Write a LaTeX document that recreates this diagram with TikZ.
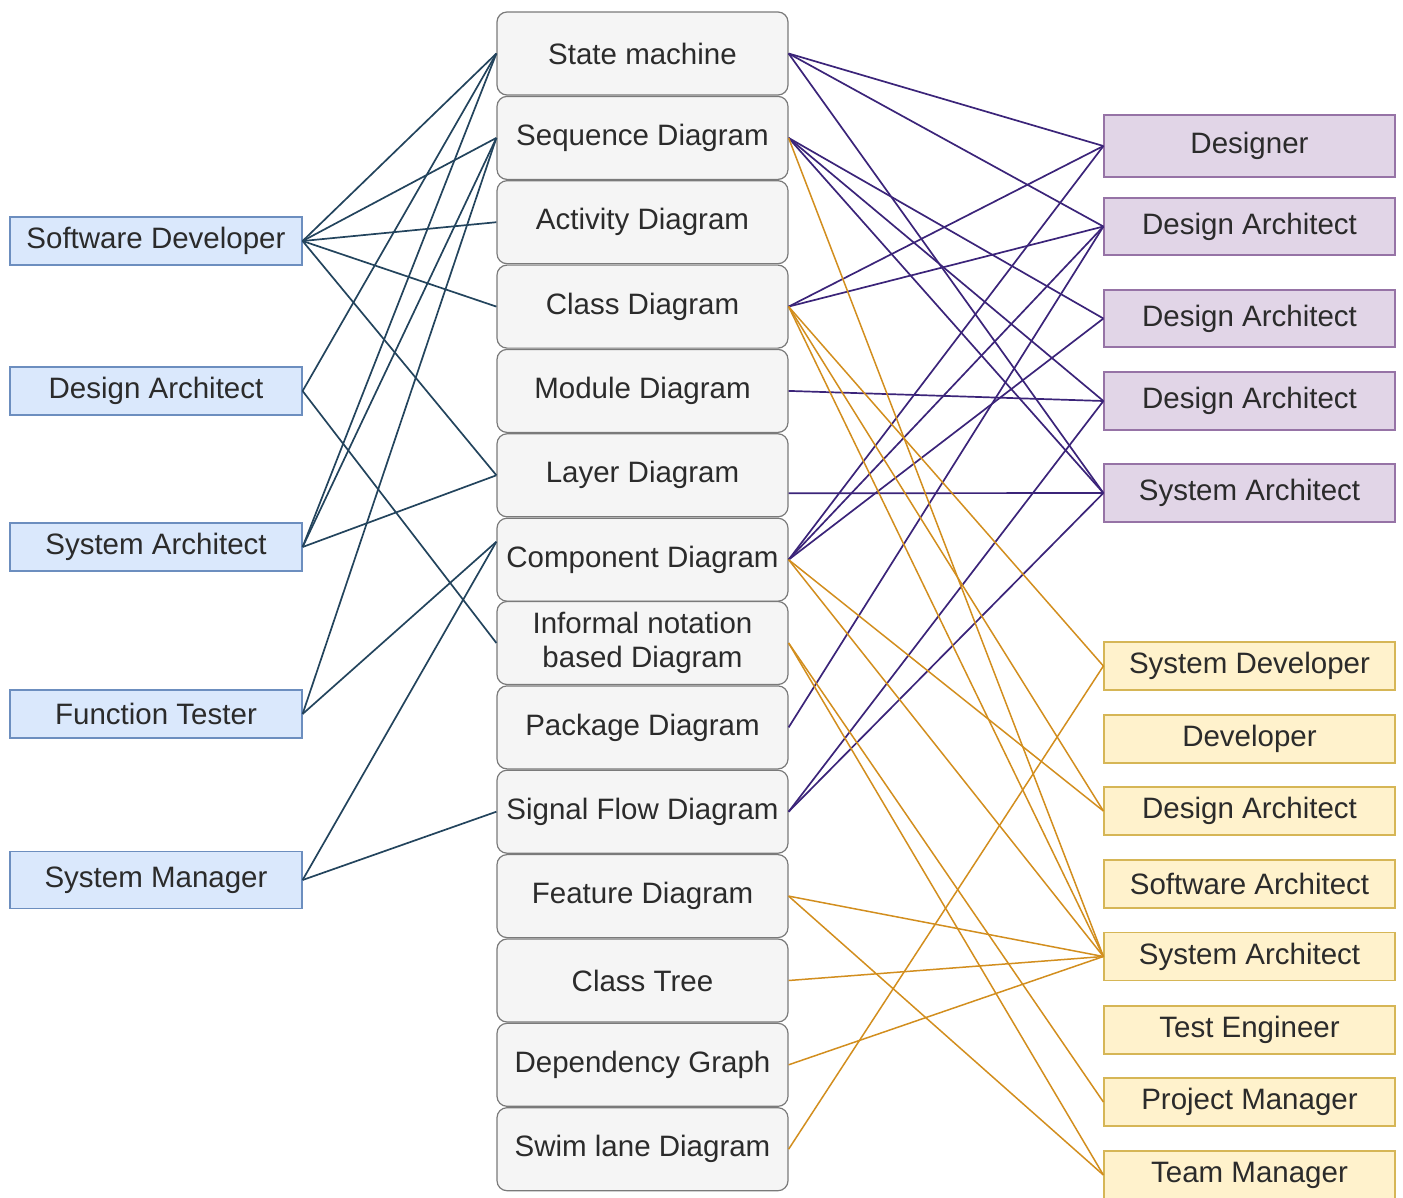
\documentclass[tikz,border=0pt]{standalone}
\usepackage{fontspec}
\setmainfont{Liberation Sans}
\definecolor{blueF}{HTML}{DAE8FC}
\definecolor{blueD}{HTML}{6C8EBF}
\definecolor{purF}{HTML}{E1D5E7}
\definecolor{purD}{HTML}{9673A6}
\definecolor{yelF}{HTML}{FFF2CC}
\definecolor{yelD}{HTML}{D6B656}
\definecolor{grayF}{HTML}{F5F5F5}
\definecolor{grayD}{HTML}{7A7A7A}
\definecolor{lnBlue}{HTML}{23445D}
\definecolor{lnPur}{HTML}{3B2479}
\definecolor{lnOra}{HTML}{D28E1E}
\definecolor{txt}{HTML}{2B2B2B}
\begin{document}
\begin{tikzpicture}[x=1pt,y=-1pt,
  font=\fontsize{29.5}{34}\selectfont,
  base/.style={draw, text=txt, inner sep=0pt, line width=1.2pt, align=center},
  diag/.style={base, rounded corners=10pt, fill=grayF, draw=grayD,
               minimum width=291pt, minimum height=83pt},
  roleB/.style={base, fill=blueF, draw=blueD, minimum width=292pt, minimum height=48pt},
  roleP/.style={base, fill=purF, draw=purD, minimum width=291pt, minimum height=58pt},
  roleY/.style={base, fill=yelF, draw=yelD, minimum width=291pt, minimum height=48pt},
  cB/.style={draw=lnBlue, line width=1.7pt},
  cP/.style={draw=lnPur, line width=1.7pt},
  cO/.style={draw=lnOra, line width=1.5pt}]
\useasboundingbox (0,0) rectangle (1403,1197);

% diagram types (middle column)
\node[diag] (sm)  at (642.5,  53.5) {State machine};
\node[diag] (seq) at (642.5, 137.9) {Sequence Diagram};
\node[diag] (act) at (642.5, 222.2) {Activity Diagram};
\node[diag] (cls) at (642.5, 306.6) {Class Diagram};
\node[diag] (mod) at (642.5, 390.9) {Module Diagram};
\node[diag] (lay) at (642.5, 475.3) {Layer Diagram};
\node[diag] (cmp) at (642.5, 559.7) {Component Diagram};
\node[diag] (inf) at (642.5, 643.0) {Informal notation\\based Diagram};
\node[diag] (pkg) at (642.5, 727.4) {Package Diagram};
\node[diag] (sig) at (642.5, 811.7) {Signal Flow Diagram};
\node[diag] (fea) at (642.5, 896.1) {Feature Diagram};
\node[diag] (ctr) at (642.5, 980.5) {Class Tree};
\node[diag] (dep) at (642.5,1064.8) {Dependency Graph};
\node[diag] (swl) at (642.5,1149.2) {Swim lane Diagram};

% roles on the left
\node[roleB] (lsd) at (156, 241) {Software Developer};
\node[roleB] (lda) at (156, 391) {Design Architect};
\node[roleB] (lsa) at (156, 547) {System Architect};
\node[roleB] (lft) at (156, 714) {Function Tester};
\node[roleB, minimum height=57pt] (lsm) at (156, 880) {System Manager};

% roles on the right (purple)
\node[roleP, minimum height=62pt] (pdes) at (1249.5, 146) {Designer};
\node[roleP, minimum height=57pt] (pda1) at (1249.5, 226.5) {Design Architect};
\node[roleP, minimum height=57pt] (pda2) at (1249.5, 318.5) {Design Architect};
\node[roleP] (pda3) at (1249.5, 401) {Design Architect};
\node[roleP] (psa)  at (1249.5, 493) {System Architect};

% roles on the right (yellow)
\node[roleY] (ysd)  at (1249.5, 666) {System Developer};
\node[roleY] (ydev) at (1249.5, 739) {Developer};
\node[roleY] (yda)  at (1249.5, 811) {Design Architect};
\node[roleY] (ysw)  at (1249.5, 884) {Software Architect};
\node[roleY] (ysa)  at (1249.5, 956.5) {System Architect};
\node[roleY] (yte)  at (1249.5,1030) {Test Engineer};
\node[roleY] (ypm)  at (1249.5,1102) {Project Manager};
\node[roleY] (ytm)  at (1249.5,1175) {Team Manager};

% left-hand links
\draw[cB] (lsd.east) -- (sm.west);
\draw[cB] (lsd.east) -- (seq.west);
\draw[cB] (lsd.east) -- (act.west);
\draw[cB] (lsd.east) -- (cls.west);
\draw[cB] (lsd.east) -- (lay.west);
\draw[cB] (lda.east) -- (sm.west);
\draw[cB] (lda.east) -- (inf.west);
\draw[cB] (lsa.east) -- (sm.west);
\draw[cB] (lsa.east) -- (seq.west);
\draw[cB] (lsa.east) -- (lay.west);
\draw[cB] (lft.east) -- (seq.west);
\draw[cB] (lft.east) -- ([yshift=18pt]cmp.west);
\draw[cB] (lsm.east) -- ([yshift=18pt]cmp.west);
\draw[cB] (lsm.east) -- (sig.west);

% right-hand links, purple roles
\draw[cP] (sm.east) -- (pdes.west);
\draw[cP] (sm.east) -- (pda1.west);
\draw[cP] (sm.east) -- (psa.west);
\draw[cP] (seq.east) -- (pda2.west);
\draw[cP] (seq.east) -- (pda3.west);
\draw[cP] (seq.east) -- (psa.west);
\draw[cP] (cls.east) -- (pdes.west);
\draw[cP] (cls.east) -- (pda1.west);
\draw[cP] (mod.east) -- (pda3.west);
\draw[cP] ([yshift=-18pt]lay.east) -- (psa.west);
\draw[cP] (cmp.east) -- (pdes.west);
\draw[cP] (cmp.east) -- (pda1.west);
\draw[cP] (cmp.east) -- (pda2.west);
\draw[cP] (pkg.east) -- (pda1.west);
\draw[cP] (sig.east) -- (pda3.west);
\draw[cP] (sig.east) -- (psa.west);

% right-hand links, yellow roles
\draw[cO] (seq.east) -- (ysa.west);
\draw[cO] (cls.east) -- (ysd.west);
\draw[cO] (cls.east) -- (yda.west);
\draw[cO] (cls.east) -- (ysa.west);
\draw[cO] (cmp.east) -- (yda.west);
\draw[cO] (cmp.east) -- (ysa.west);
\draw[cO] (inf.east) -- (ypm.west);
\draw[cO] (inf.east) -- (ytm.west);
\draw[cO] (fea.east) -- (ysa.west);
\draw[cO] (fea.east) -- (ytm.west);
\draw[cO] (ctr.east) -- (ysa.west);
\draw[cO] (dep.east) -- (ysa.west);
\draw[cO] (swl.east) -- (ysd.west);
\end{tikzpicture}
\end{document}
